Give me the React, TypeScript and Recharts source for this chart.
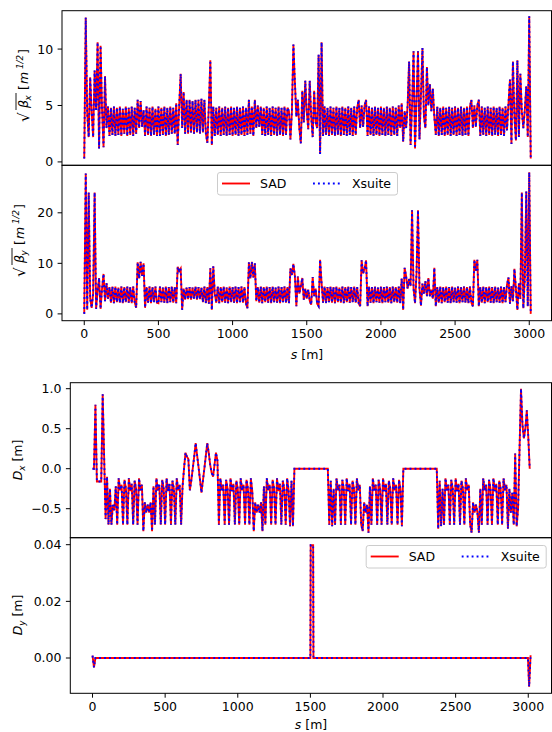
import { LineChart, Line, XAxis, YAxis } from "recharts";

// lattice functions sampled every 10 m along the ring
const S_STEP = 10;

const sTicks = [0, 500, 1000, 1500, 2000, 2500, 3000];
const bxTicks = [0, 5, 10];
const byTicks = [0, 10, 20];
const dxTicks = [-0.5, 0, 0.5, 1.0];
const dyTicks = [0, 0.02, 0.04];

// sqrt(beta_x) [m^1/2], one row per 100 m
const sqrtBetaX = [
    0.3, 12.8, 4.3, 2.2, 7.5, 4.4, 2.2, 8.1, 4.6, 10.6,
    1.2, 10.3, 4.6, 1.3, 7.6, 3.0, 4.9, 2.3, 4.8, 2.4,
    4.9, 2.3, 4.8, 2.4, 4.9, 2.3, 4.7, 2.5, 4.9, 2.3,
    4.8, 2.4, 4.9, 2.3, 4.8, 2.5, 5.5, 3.0, 5.4, 3.1,
    4.6, 2.3, 4.9, 2.4, 4.8, 2.3, 4.9, 2.4, 4.7, 2.3,
    4.9, 2.3, 4.8, 2.4, 4.9, 2.3, 4.8, 2.4, 4.9, 2.5,
    4.8, 2.5, 5.2, 1.5, 5.0, 7.8, 3.0, 6.2, 2.5, 5.5,
    2.5, 5.5, 2.6, 5.4, 2.5, 5.5, 2.6, 5.5, 2.5, 5.6,
    2.6, 5.5, 2.5, 1.7, 5.0, 9.0, 1.5, 4.9, 2.3, 4.8,
    2.4, 4.9, 2.3, 4.8, 2.4, 4.9, 2.3, 4.8, 2.4, 4.9,
    2.3, 4.8, 2.4, 4.9, 2.3, 4.8, 2.4, 4.9, 2.3, 4.8,
    2.4, 5.5, 2.5, 4.9, 2.3, 5.5, 3.0, 5.0, 3.1, 4.9,
    2.4, 4.8, 2.3, 4.9, 2.4, 4.8, 2.3, 4.9, 2.4, 4.8,
    2.3, 4.9, 2.4, 4.8, 2.3, 4.9, 2.4, 4.8, 4.5, 2.0,
    4.5, 10.4, 7.1, 4.0, 5.5, 3.0, 1.65, 6.3, 3.5, 7.2,
    4.5, 2.9, 7.2, 4.0, 2.2, 6.3, 3.5, 3.0, 9.5, 0.7,
    10.6, 2.3, 4.9, 2.4, 4.8, 2.3, 4.9, 2.4, 4.8, 2.3,
    4.9, 2.4, 4.8, 2.3, 4.9, 2.4, 4.8, 2.3, 4.9, 2.4,
    4.8, 2.3, 4.9, 2.4, 4.8, 5.5, 3.0, 5.0, 3.1, 5.0,
    5.5, 2.3, 4.9, 2.4, 4.8, 2.3, 4.9, 2.4, 4.8, 2.3,
    4.9, 2.4, 4.8, 2.3, 4.9, 2.4, 4.8, 2.3, 4.9, 2.4,
    4.8, 2.3, 5.0, 3.0, 5.2, 1.8, 4.5, 3.0, 5.0, 8.9,
    1.5, 5.0, 9.8, 1.2, 5.5, 9.8, 2.0, 6.0, 10.1, 4.0,
    3.0, 8.4, 5.0, 6.9, 4.5, 6.5, 4.0, 2.4, 4.9, 2.3,
    4.8, 2.4, 4.9, 2.3, 4.8, 2.4, 4.9, 2.3, 4.8, 2.4,
    4.9, 2.3, 4.8, 2.4, 4.9, 2.3, 4.8, 2.4, 4.9, 2.3,
    4.9, 5.5, 3.0, 5.0, 3.1, 5.0, 5.5, 2.3, 4.9, 2.4,
    4.8, 2.3, 4.9, 2.4, 4.8, 2.3, 4.9, 2.4, 4.8, 2.3,
    4.9, 2.4, 4.8, 2.3, 4.9, 2.8, 5.2, 7.3, 1.6, 8.9,
    4.0, 1.9, 9.0, 2.2, 7.8, 4.5, 3.0, 4.6, 6.7, 2.2,
    12.9, 0.3,
];

// sqrt(beta_y) [m^1/2]
const sqrtBetaY = [
    0.0, 27.8, 0.8, 24.0, 3.0, 1.2, 4.0, 24.0, 1.0, 4.5,
    7.1, 1.0, 5.0, 7.9, 2.5, 6.1, 3.0, 5.3, 2.2, 5.4,
    2.1, 5.4, 2.3, 5.2, 2.2, 5.4, 2.1, 5.3, 2.3, 5.4,
    2.2, 5.3, 2.1, 5.4, 2.3, 1.2, 10.2, 7.0, 10.3, 7.5,
    10.0, 1.2, 5.3, 2.2, 5.4, 2.1, 5.3, 2.3, 5.4, 2.2,
    2.1, 5.4, 2.3, 5.2, 2.2, 5.4, 2.1, 5.3, 2.3, 5.4,
    2.2, 5.3, 2.1, 9.3, 8.5, 9.0, 0.8, 5.0, 2.8, 5.2,
    2.9, 5.3, 2.8, 5.2, 3.0, 5.4, 2.8, 5.3, 2.9, 5.2,
    2.3, 5.4, 2.1, 5.3, 2.0, 9.0, 0.8, 9.4, 4.0, 2.2,
    5.4, 2.1, 5.3, 2.3, 5.4, 2.2, 5.2, 2.1, 5.4, 2.3,
    5.3, 2.2, 5.4, 2.1, 5.3, 2.3, 5.4, 2.2, 5.3, 2.1,
    1.1, 10.2, 7.0, 10.3, 7.2, 10.0, 2.5, 5.3, 2.2, 5.4,
    2.1, 5.3, 2.3, 5.4, 2.2, 5.3, 2.1, 5.4, 2.3, 5.2,
    2.2, 5.4, 2.1, 5.3, 2.3, 5.4, 2.2, 5.3, 2.1, 9.0,
    7.7, 9.9, 7.5, 1.5, 7.4, 4.0, 5.5, 7.1, 2.8, 5.0,
    3.0, 4.8, 2.6, 1.8, 7.3, 3.5, 5.0, 2.0, 1.5, 10.7,
    6.1, 2.2, 5.4, 2.1, 5.3, 2.3, 5.4, 2.2, 5.3, 2.1,
    5.4, 2.3, 5.2, 2.2, 5.4, 2.1, 5.3, 2.3, 5.4, 2.2,
    5.3, 2.3, 5.4, 2.2, 5.3, 2.1, 1.5, 10.6, 8.0, 9.0,
    10.6, 1.5, 5.4, 2.2, 5.3, 2.1, 5.4, 2.3, 5.2, 2.2,
    5.4, 2.1, 5.3, 2.3, 5.4, 2.2, 5.3, 2.1, 5.4, 2.3,
    5.3, 2.2, 5.4, 2.1, 7.0, 0.8, 9.1, 7.4, 5.0, 6.9,
    5.5, 20.5, 5.0, 2.1, 8.0, 20.5, 5.0, 1.6, 6.0, 4.0,
    6.5, 3.5, 7.1, 3.5, 4.8, 3.0, 9.1, 1.5, 5.3, 2.2,
    5.4, 2.1, 5.3, 2.3, 5.4, 2.2, 5.3, 2.1, 5.4, 2.3,
    5.2, 2.2, 5.4, 2.1, 5.3, 2.3, 5.4, 2.2, 5.3, 2.1,
    5.4, 2.2, 1.5, 10.7, 8.5, 10.7, 1.5, 5.3, 2.2, 5.4,
    2.1, 5.3, 2.3, 5.4, 2.2, 5.3, 2.1, 5.4, 2.3, 5.2,
    2.2, 5.4, 2.1, 5.3, 2.3, 5.8, 7.2, 2.0, 5.5, 2.5,
    8.9, 5.0, 0.8, 6.0, 3.0, 24.0, 1.1, 7.0, 24.2, 1.5,
    28.0, 0.0,
];

// horizontal dispersion D_x [m]
const dispX = [
    0.0, 0.0, 0.8, -0.16, -0.16, -0.16, -0.16, 0.93, 0.15, -0.63,
    -0.1, -0.7, -0.25, -0.7, -0.45, -0.52, -0.22, -0.7, -0.12, -0.27,
    -0.2, -0.7, -0.14, -0.25, -0.7, -0.12, -0.28, -0.19, -0.7, -0.15,
    -0.25, -0.7, -0.12, -0.27, -0.2, -0.78, -0.42, -0.55, -0.45, -0.55,
    -0.42, -0.78, -0.22, -0.7, -0.12, -0.27, -0.2, -0.7, -0.14, -0.25,
    -0.7, -0.12, -0.28, -0.19, -0.7, -0.15, -0.25, -0.7, -0.12, -0.27,
    -0.2, -0.7, -0.22, 0.0, 0.2, 0.15, 0.12, -0.27, -0.15, 0.0,
    0.15, 0.32, 0.17, 0.02, -0.14, -0.3, -0.15, 0.0, 0.16, 0.32,
    0.2, 0.05, -0.05, -0.1, 0.05, 0.2, 0.1, -0.7, -0.12, -0.27,
    -0.2, -0.7, -0.14, -0.25, -0.7, -0.12, -0.28, -0.19, -0.7, -0.15,
    -0.25, -0.7, -0.12, -0.27, -0.2, -0.7, -0.14, -0.25, -0.7, -0.12,
    -0.28, -0.78, -0.42, -0.55, -0.45, -0.55, -0.42, -0.78, -0.22, -0.7,
    -0.12, -0.27, -0.2, -0.7, -0.14, -0.25, -0.7, -0.12, -0.28, -0.19,
    -0.7, -0.15, -0.25, -0.7, -0.12, -0.27, -0.72, -0.15, -0.72, 0.0,
    0, 0, 0, 0, 0, 0, 0, 0, 0, 0,
    0, 0, 0, 0, 0, 0, 0, 0, 0, 0,
    0.0, 0.0, 0.0, -0.7, -0.15, -0.72, -0.25, -0.7, -0.12, -0.27,
    -0.2, -0.7, -0.14, -0.25, -0.7, -0.12, -0.28, -0.19, -0.7, -0.15,
    -0.25, -0.7, -0.12, -0.27, -0.2, -0.7, -0.78, -0.42, -0.55, -0.45,
    -0.8, -0.22, -0.7, -0.12, -0.27, -0.2, -0.7, -0.14, -0.25, -0.7,
    -0.12, -0.28, -0.19, -0.7, -0.15, -0.25, -0.7, -0.12, -0.27, -0.2,
    -0.7, -0.14, -0.25, -0.72, 0, 0, 0, 0, 0, 0,
    0, 0, 0, 0, 0, 0, 0, 0, 0, 0,
    0, 0, 0, 0, 0, 0, 0, 0, -0.75, -0.15,
    -0.72, -0.25, -0.7, -0.12, -0.27, -0.2, -0.7, -0.14, -0.25, -0.7,
    -0.12, -0.28, -0.19, -0.7, -0.15, -0.25, -0.7, -0.12, -0.27, -0.2,
    -0.7, -0.8, -0.42, -0.55, -0.45, -0.55, -0.8, -0.25, -0.7, -0.12,
    -0.27, -0.2, -0.7, -0.14, -0.25, -0.7, -0.12, -0.28, -0.19, -0.7,
    -0.15, -0.25, -0.7, -0.12, -0.27, -0.2, -0.75, -0.25, -0.55, -0.3,
    -0.7, 0.19, -0.72, -0.5, 0.25, 1.0, 0.55, 0.38, 0.5, 0.73,
    0.4, 0.0,
];

// vertical dispersion D_y [m], only where it changes
const dispYS = [0, 10, 20, 1500, 1502, 1519, 1521, 2998, 3006, 3016];
const dispY = [0.0008, -0.0033, 0.0, 0.0, 0.0398, 0.0398, 0.0, 0.0, -0.0101, 0.001];

type Row = { s: number; sad: number; xsuite: number };

const gridRows = (vals: number[]): Row[] =>
    vals.map((v, i) => ({ s: i * S_STEP, sad: v, xsuite: v }));

const bxData = gridRows(sqrtBetaX);
const byData = gridRows(sqrtBetaY);
const dxData = gridRows(dispX);
const dyData: Row[] = dispYS.map((s, i) => ({ s, sad: dispY[i], xsuite: dispY[i] }));

const FONT = "DejaVu Sans";
const FS = 12.5;
const LW = 1.875;
const PLOT_RIGHT = 551.5;
const spine = { stroke: "#000", strokeWidth: 1 };
const tickStyle = { fill: "#000", fontSize: FS, fontFamily: FONT };

const fmtMinus = (d: number) => (v: number) =>
    (v < 0 ? "\u2212" : "") + Math.abs(v).toFixed(d);

type PanelProps = {
    top: number;
    height: number;
    plotLeft: number;
    plotTop: number;
    plotHeight: number;
    data: Row[];
    xDomain: [number, number];
    yDomain: [number, number];
    yTicks: number[];
    yFmt: (v: number) => string;
    showX: boolean;
};

function Panel({
    top,
    height,
    plotLeft,
    plotTop,
    plotHeight,
    data,
    xDomain,
    yDomain,
    yTicks,
    yFmt,
    showX,
}: PanelProps) {
    const marginTop = plotTop - top;
    const rest = height - marginTop - plotHeight;
    return (
        <div style={{ position: "absolute", left: 0, top }}>
            <LineChart
                width={552}
                height={height}
                data={data}
                margin={{
                    top: marginTop,
                    right: 552 - PLOT_RIGHT,
                    bottom: showX ? 0 : rest,
                    left: 0,
                }}
            >
                <XAxis
                    dataKey="s"
                    type="number"
                    domain={xDomain}
                    allowDataOverflow
                    ticks={sTicks}
                    interval={0}
                    height={showX ? rest : 0}
                    tick={showX ? tickStyle : false}
                    tickLine={showX ? spine : false}
                    tickSize={4.4}
                    tickMargin={4.4}
                    axisLine={false}
                />
                <YAxis
                    type="number"
                    domain={yDomain}
                    allowDataOverflow
                    ticks={yTicks}
                    interval={0}
                    width={plotLeft}
                    tick={tickStyle}
                    tickFormatter={yFmt}
                    tickLine={spine}
                    tickSize={4.4}
                    tickMargin={4.4}
                    axisLine={false}
                />
                <Line
                    type="linear"
                    dataKey="sad"
                    stroke="#ff0000"
                    strokeWidth={LW}
                    dot={false}
                    isAnimationActive={false}
                />
                <Line
                    type="linear"
                    dataKey="xsuite"
                    stroke="#0000ff"
                    strokeWidth={LW}
                    strokeDasharray="1.875 3.09"
                    dot={false}
                    isAnimationActive={false}
                />
            </LineChart>
        </div>
    );
}

// axes frame (all four spines)
function Frame({ x0, y0, y1 }: { x0: number; y0: number; y1: number }) {
    return (
        <rect
            x={x0}
            y={y0}
            width={PLOT_RIGHT - x0}
            height={y1 - y0}
            fill="none"
            stroke="#000"
            strokeWidth={1}
        />
    );
}

function LegendBox({ x, y }: { x: number; y: number }) {
    return (
        <g transform={`translate(${x},${y})`}>
            <rect
                x={0.5}
                y={0.5}
                width={180}
                height={22.5}
                rx={2.5}
                fill="#fff"
                fillOpacity={0.8}
                stroke="#cccccc"
                strokeWidth={1}
            />
            <line x1={5} x2={33} y1={11.5} y2={11.5} stroke="#ff0000" strokeWidth={LW} />
            <text x={43} y={16}>SAD</text>
            <line
                x1={96}
                x2={124}
                y1={11.5}
                y2={11.5}
                stroke="#0000ff"
                strokeWidth={LW}
                strokeDasharray="1.875 3.09"
            />
            <text x={135} y={16}>Xsuite</text>
        </g>
    );
}

function SqrtBetaLabel({ bx, cy, sub }: { bx: number; cy: number; sub: string }) {
    return (
        <g transform={`translate(${bx},${cy}) rotate(-90)`}>
            <text x={-34} y={1} fontSize={15}>√</text>
            <line x1={-22} x2={-5} y1={-12} y2={-12} stroke="#000" strokeWidth={0.9} />
            <text x={-20} y={0} fontStyle="italic">β</text>
            <text x={-12.5} y={3} fontSize={8.75} fontStyle="italic">{sub}</text>
            <text x={-2} y={0}>[</text>
            <text x={4} y={0} fontStyle="italic">m</text>
            <text x={19} y={-5} fontSize={8.75} fontStyle="italic">1/2</text>
            <text x={34} y={0}>]</text>
        </g>
    );
}

function DispLabel({ bx, cy, sub }: { bx: number; cy: number; sub: string }) {
    return (
        <text transform={`translate(${bx},${cy}) rotate(-90)`} textAnchor="middle">
            <tspan fontStyle="italic">D</tspan>
            <tspan fontStyle="italic" fontSize={8.75} dy={3}>{sub}</tspan>
            <tspan dy={-3}> [m]</tspan>
        </text>
    );
}

function SLabel({ cx, y }: { cx: number; y: number }) {
    return (
        <text x={cx} y={y} textAnchor="middle">
            <tspan fontStyle="italic">s</tspan>
            <tspan> [m]</tspan>
        </text>
    );
}

export default function App() {
    const topX: [number, number] = [-150, 3150];
    const botX: [number, number] = [-153, 3160];
    return (
        <div
            style={{
                position: "absolute",
                left: 0,
                top: 0,
                width: 552,
                height: 732,
                background: "#fff",
                overflow: "hidden",
                fontFamily: FONT,
            }}
        >
            <Panel
                top={0}
                height={170}
                plotLeft={62}
                plotTop={10.7}
                plotHeight={154.6}
                data={bxData}
                xDomain={topX}
                yDomain={[-0.3, 13.4]}
                yTicks={bxTicks}
                yFmt={(v) => String(v)}
                showX={false}
            />
            <Panel
                top={160}
                height={200}
                plotLeft={62}
                plotTop={165.3}
                plotHeight={155.4}
                data={byData}
                xDomain={topX}
                yDomain={[-1.35, 29.4]}
                yTicks={byTicks}
                yFmt={(v) => String(v)}
                showX={true}
            />
            <Panel
                top={370}
                height={170}
                plotLeft={70.3}
                plotTop={382.7}
                plotHeight={155}
                data={dxData}
                xDomain={botX}
                yDomain={[-0.8625, 1.075]}
                yTicks={dxTicks}
                yFmt={fmtMinus(1)}
                showX={false}
            />
            <Panel
                top={530}
                height={202}
                plotLeft={70.3}
                plotTop={537.7}
                plotHeight={155.6}
                data={dyData}
                xDomain={botX}
                yDomain={[-0.01246, 0.04247]}
                yTicks={dyTicks}
                yFmt={fmtMinus(2)}
                showX={true}
            />
            <svg
                width={552}
                height={732}
                style={{ position: "absolute", left: 0, top: 0, pointerEvents: "none" }}
                fontFamily={FONT}
                fontSize={FS}
                fill="#000"
            >
                <Frame x0={62} y0={10.7} y1={165.3} />
                <Frame x0={62} y0={165.3} y1={320.7} />
                <Frame x0={70.3} y0={382.7} y1={537.7} />
                <Frame x0={70.3} y0={537.7} y1={693.3} />
                <SqrtBetaLabel bx={28} cy={88} sub="x" />
                <SqrtBetaLabel bx={24} cy={243} sub="y" />
                <DispLabel bx={22} cy={460} sub="x" />
                <DispLabel bx={22} cy={615} sub="y" />
                <SLabel cx={307} y={358.5} />
                <SLabel cx={311} y={728.5} />
                <LegendBox x={217} y={172} />
                <LegendBox x={365.7} y={545} />
            </svg>
        </div>
    );
}
